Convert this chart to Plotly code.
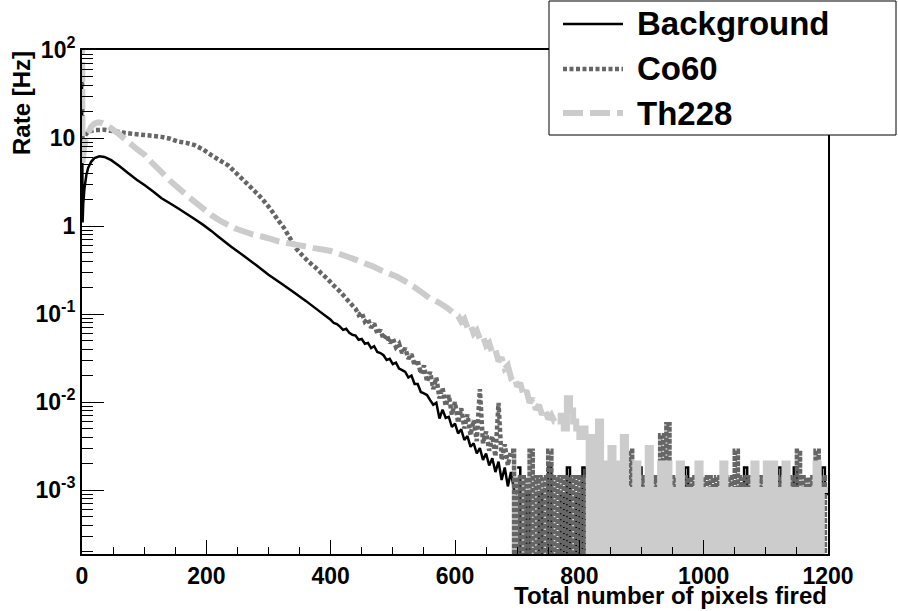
import plotly.graph_objects as go

# ---------------- data ----------------
# Smooth parts of the three rate spectra: pixel count -> rate [Hz]
bkg_x = [0, 1, 2, 4, 7, 10, 15, 20, 28, 36, 47, 60, 74, 88, 101, 115, 128, 142, 155, 168,
         181, 195, 208, 220, 240, 260, 280, 300, 320, 340, 360, 380,
         400, 405, 410, 415, 420, 425, 430, 435, 440, 445, 450, 455, 460, 465, 470, 475,
         480, 485, 490, 495, 500, 505, 510, 515, 520, 525, 530, 535, 540, 545, 550, 555,
         560, 565, 570, 575, 580, 585, 590, 595, 600, 605, 610, 615, 620, 625, 630, 635,
         640, 645, 650, 655, 660, 665, 670, 675, 680, 685, 690, 695, 700]
bkg_rate = [45, 1.1, 1.8, 2.7, 3.8, 4.6, 5.4, 5.9, 6.2, 6.1, 5.6, 4.8, 4.0, 3.35, 2.9, 2.45, 2.07, 1.8, 1.58, 1.38,
            1.2, 1.03, 0.88, 0.75, 0.58, 0.46, 0.36, 0.28, 0.224, 0.178, 0.141, 0.11,
            0.086, 0.079, 0.077, 0.072, 0.066, 0.068, 0.061, 0.058, 0.057, 0.051, 0.052, 0.046, 0.047, 0.041, 0.043, 0.037,
            0.036, 0.034, 0.030, 0.031, 0.027, 0.028, 0.024, 0.023, 0.022, 0.019, 0.020, 0.016, 0.016, 0.013, 0.0125, 0.012,
            0.0105, 0.0093, 0.0098, 0.0065, 0.0082, 0.0066, 0.0068, 0.0052, 0.0057, 0.0044, 0.0049, 0.0037, 0.0041, 0.0031, 0.0034, 0.0026,
            0.0030, 0.0022, 0.0026, 0.0019, 0.0023, 0.0016, 0.0021, 0.0013, 0.0018, 0.0011, 0.0016, 0.0010, 0.0009]

co60_x = [0, 1, 3, 6, 10, 20, 36, 50, 74, 101, 128, 142, 155, 168, 181, 195, 208, 221, 235, 248,
          262, 275, 289, 302, 316, 325, 335, 345, 355, 365, 375, 385, 395, 405, 415, 425, 435,
          440, 445, 450, 455, 460, 465, 470, 475, 480, 485, 490, 495, 500, 505, 510, 515, 520, 525,
          530, 535, 540, 545, 550, 555, 560, 565, 570, 575, 580, 585, 590, 595, 600, 605, 610, 615,
          620, 625, 630, 635, 640, 645, 650, 655, 660, 665, 670, 675, 680, 685, 690]
co60_rate = [60, 6.5, 9.5, 11.0, 11.8, 12.3, 12.4, 12.0, 11.3, 10.8, 10.3, 9.8, 9.1, 8.8, 8.3, 7.4, 6.4, 5.6, 4.9, 4.0,
             3.2, 2.6, 2.07, 1.6, 1.15, 0.95, 0.72, 0.55, 0.46, 0.39, 0.34, 0.29, 0.25, 0.21, 0.18, 0.15, 0.125,
             0.115, 0.098, 0.104, 0.082, 0.088, 0.070, 0.078, 0.060, 0.066, 0.052, 0.058, 0.047, 0.053, 0.042, 0.046, 0.036, 0.041, 0.031,
             0.035, 0.026, 0.030, 0.021, 0.026, 0.017, 0.022, 0.014, 0.019, 0.011, 0.0145, 0.009, 0.012, 0.0072, 0.010, 0.0058, 0.0085, 0.0050,
             0.0072, 0.0042, 0.0062, 0.0036, 0.0140, 0.0034, 0.0046, 0.0028, 0.0041, 0.0024, 0.0098, 0.0022, 0.0033, 0.0019, 0.0028]

th228_x = [0, 1, 3, 6, 10, 15, 20, 26, 33, 40, 47, 60, 74, 87, 101, 114, 128, 141, 155, 168,
           181, 195, 208, 221, 235, 248, 262, 275, 289, 302, 316, 330, 346, 360, 373, 387, 400,
           413, 426, 440, 453, 467, 480, 493, 507, 520, 534, 547, 560, 574, 587, 600,
           605, 610, 615, 620, 625, 630, 635, 640, 645, 650, 655, 660, 665, 670, 675, 680, 685,
           690, 695, 700, 705, 710, 715, 720, 725, 730, 735, 740, 745, 750, 755, 760, 765]
th228_rate = [300, 5.0, 7.5, 10.0, 11.5, 13.5, 14.6, 15.1, 14.8, 13.9, 12.9, 11.0, 9.1, 7.6, 6.4, 5.1, 4.1, 3.3, 2.7, 2.25,
              1.89, 1.58, 1.33, 1.16, 1.03, 0.93, 0.86, 0.80, 0.76, 0.72, 0.67, 0.64, 0.61, 0.585, 0.56, 0.54, 0.52,
              0.485, 0.45, 0.415, 0.38, 0.35, 0.316, 0.29, 0.265, 0.235, 0.204, 0.175, 0.15, 0.135, 0.118, 0.10,
              0.095, 0.082, 0.088, 0.070, 0.076, 0.060, 0.065, 0.052, 0.056, 0.044, 0.047, 0.036, 0.039, 0.029, 0.032, 0.024, 0.026,
              0.019, 0.020, 0.015, 0.0165, 0.012, 0.0135, 0.0098, 0.011, 0.0082, 0.0093, 0.0072, 0.0081, 0.0064, 0.0071, 0.0060, 0.0060]

# Noisy tails: counts per 5-pixel bin, times a rate unit [Hz] (0 = empty bin)
tail_bin_width = 5
bkg_tail_start, bkg_unit = 700, 0.9e-3
bkg_tail_counts = [2, 0, 0, 1, 0, 0, 0, 1, 0, 0, 2, 0, 0, 0, 1, 0, 2, 0, 0, 1,
                   0, 2, 0, 0, 1, 0, 0, 0, 1, 0, 0, 1, 0, 0, 0, 1, 0, 0, 0, 2,
                   0, 0, 1, 0, 0, 0, 1, 0, 0, 1, 0, 0, 0, 1, 2, 0, 0, 0, 1, 0,
                   0, 1, 0, 0, 0, 1, 0, 0, 1, 0, 0, 0, 1, 2, 0, 0, 1, 0, 0, 0,
                   1, 0, 0, 1, 2, 0, 1, 0, 0, 2, 0, 0, 1, 0, 0, 0, 1, 0, 2, 1]
co60_tail_start, co60_unit = 690, 1.4e-3
co60_tail_counts = [2, 0, 1, 0, 1, 0, 2, 0, 1, 0, 1, 0, 2, 0, 1, 0, 1, 0, 1, 0,
                    1, 0, 1, 0, 1, 0, 1, 0, 1, 0, 1, 0, 1, 0, 1, 0, 1, 0, 2, 0,
                    1, 0, 1, 0, 1, 0, 1, 0, 3, 0, 4, 0, 1, 0, 1, 0, 1, 0, 1, 0,
                    1, 0, 1, 0, 1, 0, 1, 0, 1, 0, 1, 0, 2, 0, 1, 0, 1, 0, 1, 0,
                    1, 0, 1, 0, 1, 0, 1, 0, 1, 0, 1, 0, 2, 0, 1, 0, 1, 0, 2, 0,
                    1, 0]
th228_tail_start, th228_unit = 765, 1.0e-3
th228_tail_counts = [6, 7, 5, 11, 8, 6, 5, 4, 5, 4,
                     0, 4, 0, 6, 0, 2, 0, 3, 0, 2, 0, 4, 0, 1, 0, 2, 0, 1, 0, 3,
                     0, 1, 0, 2, 0, 2, 0, 1, 0, 2, 0, 1, 0, 1, 0, 2, 0, 1, 0, 1,
                     0, 1, 0, 2, 0, 1, 0, 1, 0, 1, 0, 1, 0, 2, 0, 1, 0, 2, 0, 2,
                     0, 1, 0, 2, 0, 1, 0, 1, 0, 1, 0, 1, 0, 2, 0, 1, 1]

series_names = ["Background", "Co60", "Th228"]
x_tick_vals = [0, 200, 400, 600, 800, 1000, 1200]
y_tick_vals = [1e-3, 1e-2, 1e-1, 1, 10, 100]
y_tick_text = ["10<sup>-3</sup>", "10<sup>-2</sup>", "10<sup>-1</sup>", "1", "10", "10<sup>2</sup>"]
x_title = "Total number of pixels fired"
y_title = "Rate [Hz]"

# ---------------- styling ----------------
FONT = "Liberation Sans"
ZERO_FLOOR = 1.5e-4  # empty bins drop just below the visible axis range
styles = [
    dict(color="#000000", width=2.5, dash="solid", tail_dash="solid"),
    dict(color="#666666", width=4.5, dash="4px,2.5px", tail_dash="5px,1px"),
    dict(color="#cccccc", width=6, dash="20px,7px", tail_dash="solid"),
]


def tail_xy(start, counts, unit, width):
    xs, ys = [], []
    for i, c in enumerate(counts):
        xs.append(start + i * width)
        ys.append(c * unit if c > 0 else ZERO_FLOOR)
    xs.append(start + len(counts) * width)
    ys.append(ys[-1])
    return xs, ys


fig = go.Figure()
smooth = [(bkg_x, bkg_rate), (co60_x, co60_rate), (th228_x, th228_rate)]
tails = [(bkg_tail_start, bkg_tail_counts, bkg_unit),
         (co60_tail_start, co60_tail_counts, co60_unit),
         (th228_tail_start, th228_tail_counts, th228_unit)]
for name, (sx, sy), (ts, tc, tu), st in zip(series_names, smooth, tails, styles):
    fig.add_trace(go.Scatter(x=sx, y=sy, mode="lines", name=name, legendgroup=name,
                             line=dict(color=st["color"], width=st["width"], dash=st["dash"], simplify=False),
                             showlegend=False, hoverinfo="skip"))
    tx, ty = tail_xy(ts, tc, tu, tail_bin_width)
    fig.add_trace(go.Scatter(x=tx, y=ty, mode="lines", name=name, legendgroup=name,
                             line=dict(color=st["color"], width=st["width"], dash=st["tail_dash"],
                                       shape="hv", simplify=False),
                             showlegend=False, hoverinfo="skip"))

# plot-area geometry in pixels
L, R, T, B = 82, 828, 50, 554
W, H = 898, 611


def px(xp):
    return (xp - L) / (R - L)


def py(yp):
    return (B - yp) / (B - T)


tickfont = dict(family=FONT, size=23, color="black", weight="bold")
y_minor = [m * 10.0 ** k for k in range(-4, 2) for m in range(2, 10)]

fig.update_layout(
    width=W, height=H,
    margin=dict(l=L, r=W - R, t=T, b=H - B),
    paper_bgcolor="white", plot_bgcolor="white",
    showlegend=False,
    xaxis=dict(range=[0, 1200], tickmode="array", tickvals=x_tick_vals,
               ticks="inside", ticklen=14, tickwidth=1, tickcolor="black",
               showline=True, linecolor="black", linewidth=2, mirror=True,
               showgrid=False, zeroline=False, tickfont=tickfont,
               minor=dict(tickmode="linear", tick0=0, dtick=50, ticks="inside", ticklen=7,
                          tickwidth=1, tickcolor="black", showgrid=False)),
    yaxis=dict(type="log", range=[-3.727, 2], tickmode="array", tickvals=y_tick_vals,
               ticktext=y_tick_text,
               ticks="inside", ticklen=22, tickwidth=1, tickcolor="black",
               showline=True, linecolor="black", linewidth=2, mirror=True,
               showgrid=False, zeroline=False, tickfont=tickfont,
               minor=dict(tickmode="array", tickvals=y_minor, ticks="inside", ticklen=11,
                          tickwidth=1, tickcolor="black", showgrid=False)),
)

# axis titles
fig.add_annotation(text=x_title, xref="paper", yref="paper", x=1.0, y=py(595),
                   xanchor="right", yanchor="middle", showarrow=False, borderpad=0,
                   font=dict(family=FONT, size=24, color="black", weight="bold"))
fig.add_annotation(text=y_title, xref="paper", yref="paper", x=px(21), y=1.0,
                   xanchor="center", yanchor="top", textangle=-90, showarrow=False, borderpad=0,
                   font=dict(family=FONT, size=24, color="black", weight="bold"))

# legend box (ROOT TLegend style)
fig.add_shape(type="rect", xref="paper", yref="paper", x0=px(549), x1=px(896), y0=py(135), y1=py(1),
              line=dict(color="black", width=1), fillcolor="white", layer="above")
rows_y = [24, 69, 113]
for name, st, ry in zip(series_names, styles, rows_y):
    fig.add_shape(type="line", xref="paper", yref="paper", x0=px(563), x1=px(623), y0=py(ry), y1=py(ry),
                  line=dict(color=st["color"], width=st["width"], dash=st["dash"]), layer="above")
    fig.add_annotation(text=name, xref="paper", yref="paper", x=px(636), y=py(ry),
                       xanchor="left", yanchor="middle", showarrow=False, borderpad=0,
                       font=dict(family=FONT, size=33, color="black", weight="bold"))

fig.write_html("out.html", config={"displayModeBar": False},
               post_script="document.body.style.margin='0';")
